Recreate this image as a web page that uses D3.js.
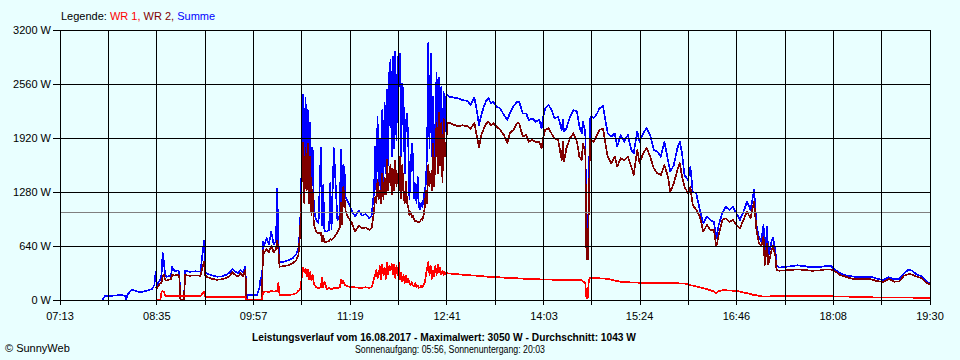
<!DOCTYPE html>
<html><head><meta charset="utf-8">
<script src="https://cdn.jsdelivr.net/npm/d3@7"></script>
<style>
html,body{margin:0;padding:0;background:#E9FFFF;}
svg{display:block;font-family:"Liberation Sans",Arial,sans-serif;}
</style></head><body>
<svg id="c" width="960" height="360"></svg>
<script>
// ---- data ----
const times = [
"07:49","07:51","07:56","08:02","08:06","08:08","08:09","08:10","08:12","08:14",
"08:17","08:20","08:24","08:28","08:31","08:33","08:34","08:35","08:36","08:38",
"08:39","08:40","08:41","08:42","08:43","08:45","08:47","08:48","08:50","08:53",
"08:54","08:55","08:58","08:59","09:03","09:08","09:12","09:15","09:16","09:18",
"09:22","09:26","09:30","09:34","09:37","09:39","09:42","09:44","09:46","09:48",
"09:50","09:51","09:52","10:00","10:02","10:03","10:04","10:05","10:06","10:08",
"10:10","10:12","10:14","10:16","10:17","10:18","10:19","10:22","10:26","10:30",
"10:33","10:35","10:36","10:37","10:38","10:39","10:40","10:41","10:42","10:43",
"10:44","10:45","10:46","10:47","10:48","10:49","10:50","10:52","10:54","10:55",
"10:56","10:57","10:59","11:01","11:02","11:03","11:05","11:08","11:10","11:11",
"11:12","11:13","11:14","11:15","11:17","11:20","11:23","11:26","11:29","11:32",
"11:35","11:37","11:38","11:39","11:40","11:41","11:42","11:43","11:44","11:45",
"11:46","11:47","11:48","11:49","11:50","11:51","11:52","11:53","11:54","11:55",
"11:56","11:57","11:58","11:59","12:00","12:01","12:02","12:03","12:04","12:05",
"12:06","12:07","12:08","12:09","12:10","12:11","12:12","12:13","12:14","12:15",
"12:16","12:17","12:18","12:19","12:20","12:21","12:22","12:23","12:24","12:25",
"12:26","12:27","12:28","12:29","12:30","12:31","12:32","12:33","12:34","12:35",
"12:36","12:37","12:38","12:39","12:40","12:41","12:43","12:46","12:50","12:54",
"12:58","13:01","13:04","13:06","13:08","13:10","13:12","13:14","13:16","13:18",
"13:20","13:23","13:26","13:29","13:32","13:34","13:37","13:40","13:42","13:45",
"13:48","13:50","13:53","13:56","13:59","14:01","14:02","14:04","14:07","14:10",
"14:12","14:15","14:18","14:19","14:20","14:22","14:25","14:28","14:31","14:33",
"14:35","14:36","14:37","14:38","14:39","14:40","14:41","14:42","14:43","14:45",
"14:48","14:50","14:53","14:55","14:57","15:00","15:03","15:05","15:08","15:11",
"15:14","15:17","15:19","15:22","15:24","15:27","15:30","15:33","15:36","15:39",
"15:42","15:45","15:48","15:50","15:53","15:56","15:58","16:00","16:02","16:05",
"16:07","16:09","16:12","16:15","16:18","16:21","16:24","16:27","16:29","16:31",
"16:34","16:37","16:40","16:43","16:46","16:49","16:52","16:55","16:58","17:00",
"17:01","17:03","17:05","17:07","17:09","17:10","17:12","17:13","17:16","17:17",
"17:19","17:20","17:22","17:26","17:32","17:38","17:44","17:50","17:56","18:02",
"18:06","18:10","18:14","18:20","18:26","18:32","18:40","18:45","18:50","18:55",
"19:00","19:04","19:08","19:12","19:15","19:19","19:23","19:27","19:30"
];
// Summe (blue)
const summe = [
0,47,50,56,56,50,0,56,95,120,
110,95,100,115,130,180,335,150,200,240,
300,560,450,300,276,280,290,390,345,350,
330,0,0,345,335,340,335,700,330,310,
290,276,280,300,330,367,330,320,356,324,
395,0,56,60,150,260,100,690,650,735,
660,810,660,700,1324,700,454,450,470,494,
540,612,793,1100,1850,2430,1500,2400,1700,2250,
1400,2100,1300,1800,1100,1000,950,910,1800,880,
1363,820,810,830,1386,840,1800,950,1000,1778,
1100,1600,1541,1220,1160,1067,987,1060,1000,1020,
970,1000,1150,1268,1817,1300,2172,1350,1896,1300,
2252,1400,2335,1500,2489,1600,2700,2844,1700,2884,
1800,2943,1900,2884,2805,2923,1700,2568,2410,1500,
2094,2212,1896,1200,1500,1857,1698,1200,1383,1150,
1461,1100,1080,1150,1100,1200,1300,1386,1800,3046,
1800,2923,1700,2410,1500,2094,2690,1800,2640,2000,
2525,1700,2465,2000,2410,2430,2410,2400,2390,2370,
2360,2311,2400,2252,2074,2200,2290,2360,2390,2331,
2350,2291,2271,2193,2133,2212,2291,2350,2350,2212,
2212,2133,2153,2113,2133,2035,2150,2271,2311,2232,
2153,2172,2015,2133,2000,2035,2172,2252,2232,2054,
1975,2113,2054,2000,540,520,1350,2150,2180,2153,
2212,2271,2299,2133,1975,1936,1975,1817,1956,1876,
1956,1778,1738,1995,1876,1975,2035,1956,1778,1758,
1698,1876,1659,1521,1600,1798,1876,1738,1481,1422,
1580,1284,1264,1067,909,987,948,923,731,889,
1027,1106,1067,1106,1027,948,1047,1165,1067,1224,
1304,889,750,691,889,474,869,513,711,740,
593,415,383,390,400,411,400,387,390,403,
403,356,316,288,276,276,276,253,237,269,
245,249,316,363,345,300,280,220,198
];
// WR 2 (dark red)
const wr2 = [
null,null,null,null,null,null,null,null,null,null,
null,null,null,null,null,null,150,140,160,200,
200,280,300,240,230,240,250,300,290,300,
290,0,0,295,288,290,288,450,290,270,
250,240,245,260,290,328,290,280,316,280,
356,0,0,0,0,0,0,590,560,600,
570,640,565,600,700,600,395,400,410,435,
470,540,711,1000,1550,1860,1150,1800,1300,1850,
1150,1700,1000,1300,900,850,810,790,800,700,
760,680,690,700,720,710,740,800,860,1150,
900,1340,1200,1050,980,920,810,880,850,860,
830,850,950,1050,1220,1150,1420,1200,1300,1150,
1500,1200,1450,1250,1660,1300,1500,1600,1250,1550,
1300,1650,1350,1500,1300,1700,1200,1600,1250,1150,
1400,1150,1100,1000,1050,980,1000,950,930,940,
925,920,930,960,950,1000,1100,1300,1150,1600,
1350,1500,1300,1850,1350,1700,2100,1500,2215,1600,
2100,1400,2150,1700,1780,2094,2100,2080,2060,2070,
2060,2030,2100,1950,1815,1960,2030,2090,2113,2074,
2094,2054,2015,1956,1857,1975,2015,2094,2094,1936,
1956,1876,1896,1876,1876,1798,1900,2015,2035,1956,
1916,1896,1659,1876,1639,1800,1916,1975,1876,1698,
1659,1857,1800,1780,490,480,1100,1900,1900,1876,
1956,2015,2035,1857,1698,1620,1698,1580,1679,1659,
1698,1580,1481,1778,1620,1738,1798,1698,1560,1501,
1481,1600,1461,1284,1383,1541,1620,1461,1343,1264,
1343,1126,1067,987,810,889,830,830,632,770,
948,968,928,948,889,849,948,1047,968,1106,
1165,830,680,632,750,415,672,420,600,640,
520,360,347,350,356,363,355,347,350,363,
363,335,296,269,245,245,245,225,213,249,
217,220,288,308,300,275,260,205,186
];
// WR 1 (red)
const wr1 = [
null,null,null,null,null,null,null,null,null,null,
null,null,null,null,null,null,0,0,0,0,
100,105,100,60,44,44,47,47,47,47,
47,47,47,47,47,47,47,100,40,35,
35,35,35,35,35,35,35,35,35,35,
35,0,0,0,0,0,0,85,98,100,
95,110,100,105,110,200,59,59,59,65,
80,110,119,150,300,380,330,370,280,360,
250,330,230,300,200,170,150,140,150,270,
150,220,130,140,130,130,140,140,150,237,
200,230,180,170,160,150,150,145,145,150,
145,150,200,250,300,356,260,300,400,250,
420,300,380,250,440,300,400,350,430,300,
420,260,400,300,440,250,320,220,300,200,
290,210,250,200,180,210,170,160,200,150,
170,145,150,170,150,180,200,300,380,450,
300,400,250,350,280,400,300,420,330,380,
300,350,300,330,310,316,315,310,305,300,
295,292,290,288,285,283,280,278,275,272,
270,270,268,265,262,260,258,257,255,253,
252,250,248,246,245,244,244,243,242,241,
240,240,239,239,238,238,237,237,236,236,
235,220,215,200,20,20,240,264,264,262,
260,257,255,252,250,240,230,225,217,214,
211,208,207,206,205,204,203,202,200,200,
198,198,198,198,198,198,197,197,196,185,
175,170,160,150,140,130,115,100,79,105,
115,115,112,110,110,100,90,80,70,62,
60,55,50,45,40,40,40,40,45,48,
50,50,50,50,50,50,50,50,50,48,
45,40,40,40,38,36,32,30,28,28,
28,28,28,28,28,26,25,22,20
];
const yTicks = [0, 640, 1280, 1920, 2560, 3200];
const xTickLabels = ["07:13","08:35","09:57","11:19","12:41","14:03","15:24","16:46","18:08","19:30"];
const dayStart = "07:13", dayEnd = "19:30";
const gridDivisions = 18;
const average = 1043;
const legendParts = [["Legende: ","#000000"],["WR 1, ","#FF0000"],["WR 2, ","#800000"],["Summe","#0000FF"]];
const titleText = "Leistungsverlauf vom 16.08.2017 - Maximalwert: 3050 W - Durchschnitt: 1043 W";
const subText = "Sonnenaufgang: 05:56, Sonnenuntergang: 20:03";
const copyText = "\u00A9 SunnyWeb";

// ---- drawing ----
const toMin = s => { const [h,m] = s.split(":").map(Number); return h*60+m; };
const svg = d3.select("#c");
const L = 60, R = 930, T = 30, B = 300;
const x = d3.scaleLinear().domain([toMin(dayStart), toMin(dayEnd)]).range([L, R]);
const y = d3.scaleLinear().domain([0, 3200]).range([B, T]);

const n = Math.min(times.length, summe.length, wr1.length, wr2.length);
if (times.length!==summe.length||times.length!==wr1.length||times.length!==wr2.length)
  console.error("length mismatch", times.length, summe.length, wr2.length, wr1.length);

const rows = d3.range(n).map(i => ({t: toMin(times[i]), s: summe[i], w2: wr2[i], w1: wr1[i]}));

function drawSeries(key, color){
  const line = d3.line()
    .defined(d => d[key] !== null && d[key] !== undefined)
    .x(d => x(d.t)).y(d => y(d[key]));
  svg.append("path").datum(rows)
    .attr("fill","none").attr("stroke",color).attr("stroke-width",1.7)
    .attr("stroke-linejoin","round")
    .attr("shape-rendering","crispEdges")
    .attr("d", line);
}
drawSeries("s", "#0000FF");
drawSeries("w2", "#800000");
drawSeries("w1", "#FF0000");

// average line
svg.append("line")
  .attr("x1", L).attr("x2", R)
  .attr("y1", Math.round(y(average))+0.5).attr("y2", Math.round(y(average))+0.5)
  .attr("stroke","#808080").attr("stroke-width",1);

// grid (drawn above the data, as in the reference)
const g = svg.append("g").attr("stroke","#000").attr("stroke-width",1).attr("shape-rendering","crispEdges");
yTicks.forEach(v => {
  g.append("line").attr("x1", L-7).attr("x2", R).attr("y1", y(v)).attr("y2", y(v));
});
const t0 = toMin(dayStart), t1 = toMin(dayEnd);
d3.range(gridDivisions+1).forEach(i => {
  const xv = x(t0 + i*(t1-t0)/gridDivisions);
  g.append("line").attr("x1", xv).attr("x2", xv).attr("y1", T).attr("y2", B+5);
});

// y labels
svg.append("g").selectAll("text").data(yTicks).join("text")
  .attr("x", 51).attr("y", d => y(d)).attr("dy","0.35em")
  .attr("text-anchor","end").attr("font-size",11).attr("fill","#000")
  .text(d => d + " W");

// x labels
svg.append("g").selectAll("text").data(xTickLabels).join("text")
  .attr("x", d => x(toMin(d))).attr("y", 320)
  .attr("text-anchor","middle").attr("font-size",11).attr("fill","#000")
  .text(d => d);

// legend
const leg = svg.append("text").attr("x", 61).attr("y", 20).attr("font-size",11);
legendParts.forEach(([txt,col]) => leg.append("tspan").attr("fill",col).attr("xml:space","preserve").text(txt));

// title / subtitle / copyright
svg.append("text").attr("x", 444).attr("y", 341).attr("text-anchor","middle")
  .attr("font-size",11.5).attr("font-weight","bold")
  .attr("textLength",384).attr("lengthAdjust","spacingAndGlyphs").text(titleText);
svg.append("text").attr("x", 450).attr("y", 353).attr("text-anchor","middle")
  .attr("font-size",10)
  .attr("textLength",190).attr("lengthAdjust","spacingAndGlyphs").text(subText);
svg.append("text").attr("x", 5).attr("y", 352).attr("font-size",11).text(copyText);
</script>
</body></html>
